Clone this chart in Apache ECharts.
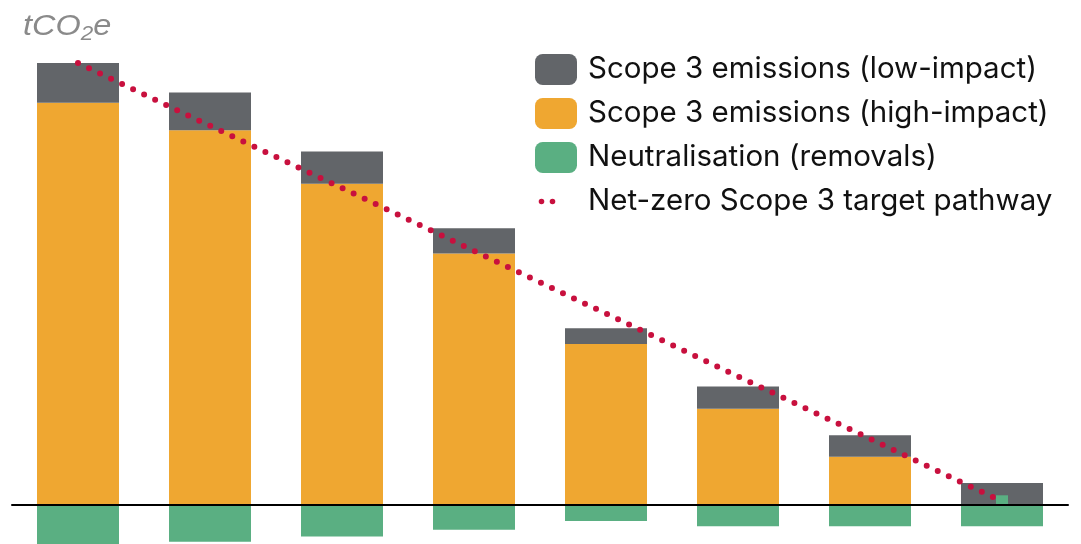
<!DOCTYPE html>
<html>
<head>
<meta charset="utf-8">
<script src="https://cdn.jsdelivr.net/npm/echarts@6/dist/echarts.min.js"></script>
<style>
  html, body { margin: 0; padding: 0; background: #ffffff; }
  #chart { width: 1081px; height: 544px; }
</style>
</head>
<body>
<div id="chart"></div>
<script>
// Reporting periods (not labelled on the axis)
const periods = ['P1', 'P2', 'P3', 'P4', 'P5', 'P6', 'P7', 'P8'];

// Emissions in tCO2e (scaled units)
const highImpact = [91.0, 84.8, 72.7, 56.9, 36.4, 21.8, 10.9, 0];
const lowImpact = [9.0, 8.5, 7.3, 5.7, 3.6, 5.0, 4.9, 5.0];
const removals = [-9.0, -8.3, -7.1, -5.6, -3.6, -4.8, -4.8, -4.8];
// Removal credited against residual emissions in the final period
const residualRemoval = ['-', '-', '-', '-', '-', '-', '-', 2.2];
// Net-zero target pathway
const pathway = [100, 85.8, 71.7, 57.5, 43.3, 29.1, 15.0, 0.8];

const seriesNames = [
  'Scope 3 emissions (low-impact)',
  'Scope 3 emissions (high-impact)',
  'Neutralisation (removals)',
  'Net-zero Scope 3 target pathway'
];

const colors = {
  low: '#626569',
  high: '#efa731',
  removal: '#5aaf82',
  pathway: '#c8103e'
};

// Two-dot legend marker sized to the 42x31 legend box
const dotsIcon = 'path://M0,0M42,31' +
  'M3.7,15.5a2.8,2.8 0 1,0 5.6,0a2.8,2.8 0 1,0 -5.6,0z' +
  'M14.7,15.5a2.8,2.8 0 1,0 5.6,0a2.8,2.8 0 1,0 -5.6,0z';

const unitFont = { fontFamily: 'Liberation Sans', fontStyle: 'italic', fontWeight: 'normal', fill: '#8a8a8a' };

const chart = echarts.init(document.getElementById('chart'), null, { renderer: 'canvas' });

chart.setOption({
  animation: false,
  backgroundColor: '#ffffff',
  graphic: [
    {
      // Unit label: tCO2e with subscript 2
      type: 'text',
      left: 23,
      top: 12,
      scaleX: 1.12,
      style: {
        text: '{a|tCO}{b|2}{a|e}',
        rich: {
          a: Object.assign({ fontSize: 29, lineHeight: 32 }, unitFont),
          b: Object.assign({ fontSize: 20, padding: [16, 0, 0, 0] }, unitFont)
        }
      }
    }
  ],
  legend: {
    orient: 'vertical',
    left: 535,
    top: 54,
    padding: 0,
    itemWidth: 42,
    itemHeight: 31,
    itemGap: 13,
    itemStyle: { borderWidth: 0 },
    textStyle: { fontFamily: 'Inter', fontSize: 29.5, color: '#111111', padding: [0, 0, 0, 6] },
    data: [
      seriesNames[0],
      seriesNames[1],
      seriesNames[2],
      { name: seriesNames[3], icon: dotsIcon }
    ]
  },
  grid: { left: 12, right: 13, top: 18.8, height: 525.1 },
  xAxis: [
    {
      type: 'category',
      data: periods,
      boundaryGap: true,
      axisLine: { show: true, onZero: true, lineStyle: { color: '#000000', width: 2 } },
      axisTick: { show: false },
      axisLabel: { show: false },
      splitLine: { show: false },
      z: 6
    },
    {
      type: 'category',
      data: periods,
      show: false
    }
  ],
  yAxis: {
    type: 'value',
    min: -8.8,
    max: 110,
    show: false,
    splitLine: { show: false }
  },
  series: [
    {
      name: seriesNames[1],
      type: 'bar',
      stack: 'total',
      barWidth: 82,
      data: highImpact,
      itemStyle: { color: colors.high },
      clip: false
    },
    {
      name: seriesNames[0],
      type: 'bar',
      stack: 'total',
      barWidth: 82,
      data: lowImpact,
      itemStyle: { color: colors.low },
      clip: false
    },
    {
      name: seriesNames[2],
      type: 'bar',
      stack: 'total',
      barWidth: 82,
      data: removals,
      itemStyle: { color: colors.removal },
      clip: false
    },
    {
      name: seriesNames[3],
      type: 'line',
      data: pathway,
      symbol: 'none',
      color: colors.pathway,
      lineStyle: { color: colors.pathway, width: 6, type: [0, 12.2], cap: 'round' },
      z: 3,
      clip: false
    },
    {
      name: seriesNames[2],
      type: 'bar',
      xAxisIndex: 1,
      barWidth: 12,
      data: residualRemoval,
      itemStyle: { color: colors.removal },
      z: 4,
      clip: false
    }
  ]
});
</script>
</body>
</html>
